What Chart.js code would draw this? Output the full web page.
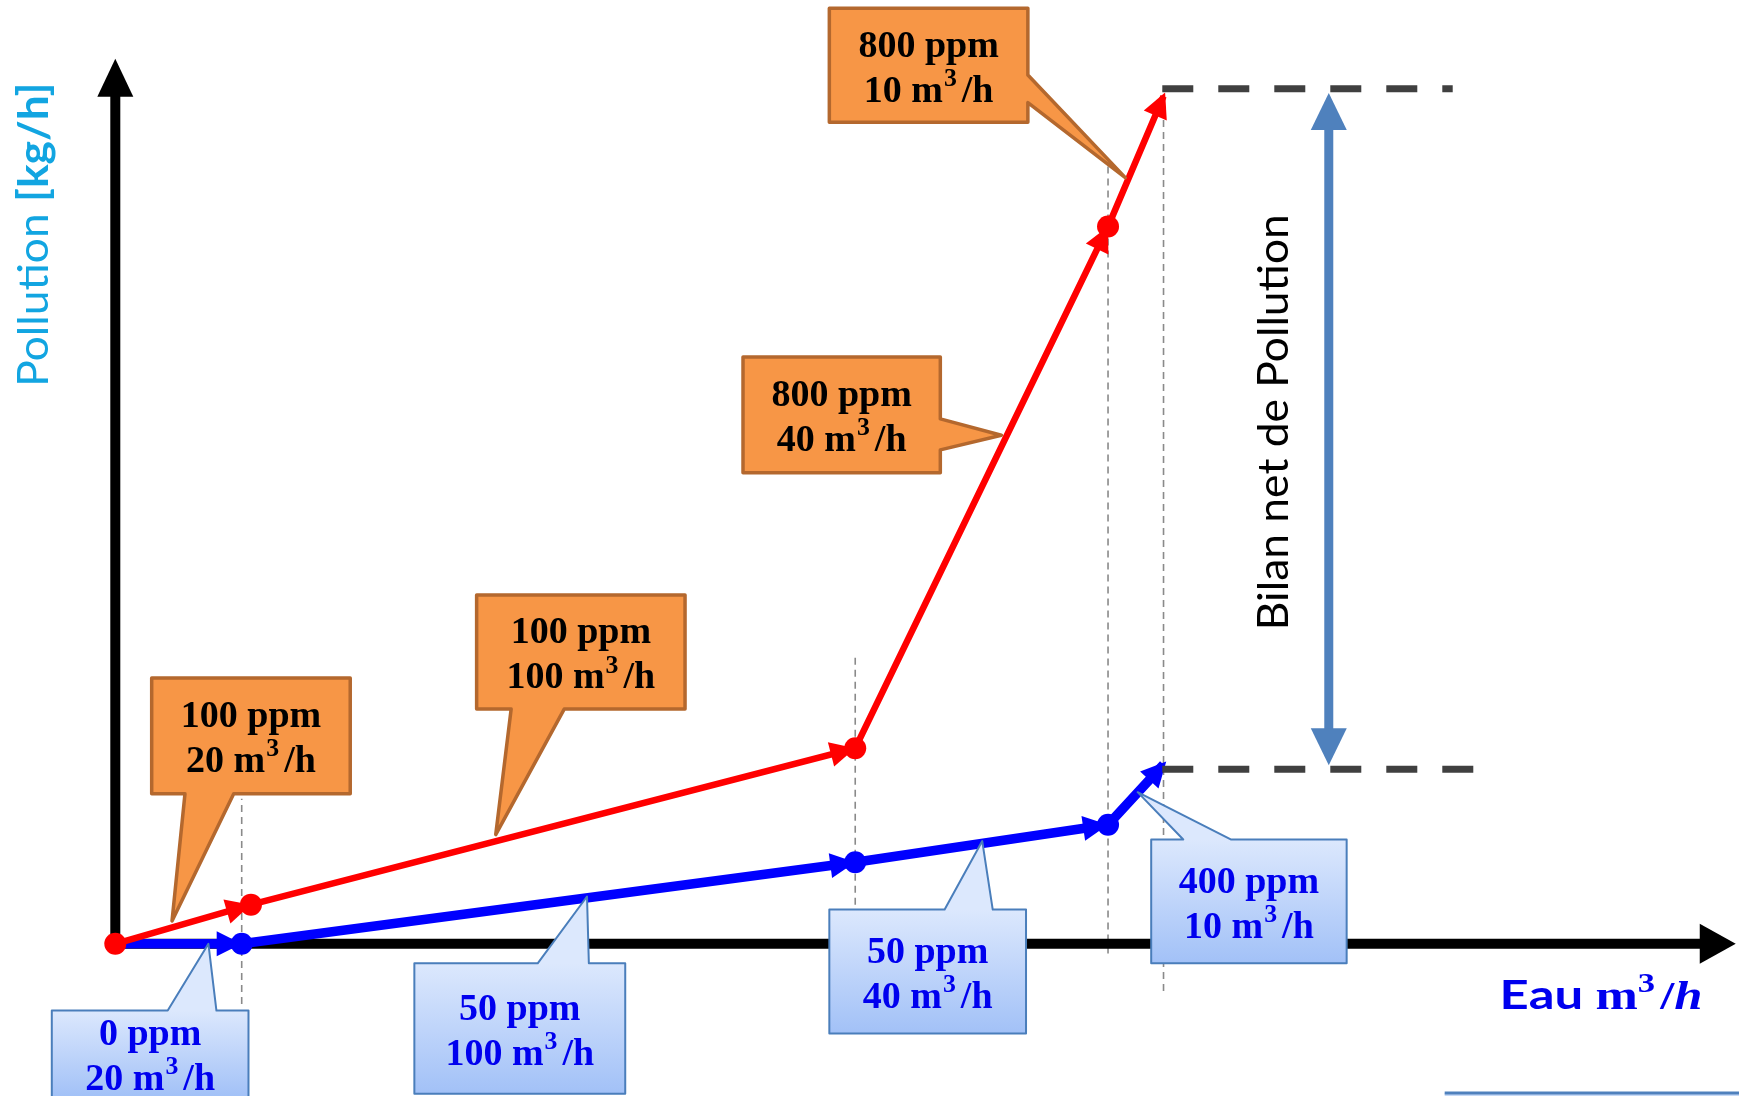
<!DOCTYPE html>
<html>
<head>
<meta charset="utf-8">
<script src="https://cdn.jsdelivr.net/npm/chart.js@4.4.1/dist/chart.umd.min.js"></script>
<style>
  html, body { margin: 0; padding: 0; background: #fff; }
  #wrap { width: 1739px; height: 1096px; }
</style>
</head>
<body>
<div id="wrap"><canvas id="bilan"></canvas></div>
<script>
// values: x = eau cumulée (m3/h), y = pollution (kg/h)
const redX = [0, 22, 120, 161, 170];
const redY = [0, 2.4, 12, 44, 52];
const blueX = [0, 20.5, 120, 161, 170];
const blueY = [0, 0, 5, 7.3, 11];

// callout texts (concentration, debit)
const orangeConc = ['100 ppm', '100 ppm', '800 ppm', '800 ppm'];
const orangeFlow = ['20', '100', '40', '10'];
const blueConc = ['0 ppm', '50 ppm', '50 ppm', '400 ppm'];
const blueFlow = ['20', '100', '40', '10'];

// layout of the drawing, in data units
const orangeBoxes = [
  { box: [5.9, 38.1, 9.2, 16.3], side: 'bottom', base: [11.3, 19.2], tip: [9.2, 1.4] },
  { box: [58.6, 92.4, 14.4, 21.4], side: 'bottom', base: [64.2, 72.8], tip: [61.7, 6.7] },
  { box: [101.8, 133.8, 28.9, 36.0], side: 'right', base: [30.3, 32.2], tip: [143.7, 31.2] },
  { box: [115.8, 148.0, 50.4, 57.4], side: 'right', base: [51.6, 53.3], tip: [163.8, 47.0] }
];
const blueBoxes = [
  { box: [-10.3, 21.6, -9.4, -4.1], side: 'top', base: [8.5, 16.4], tip: [15.1, 0] },
  { box: [48.5, 82.7, -9.2, -1.2], side: 'top', base: [68.5, 76.8], tip: [76.5, 2.9] },
  { box: [115.8, 147.7, -5.5, 2.1], side: 'top', base: [134.5, 142.3], tip: [140.6, 6.3] },
  { box: [168.0, 199.7, -1.2, 6.4], side: 'top', base: [173.2, 180.9], tip: [165.8, 9.3] }
];
const guides = [
  { x: 20.5, y0: -3.7, y1: 8.9 },
  { x: 120, y0: 2.4, y1: 17.8 },
  { x: 161, y0: -0.6, y1: 47.9 },
  { x: 170, y0: -2.9, y1: 52.4 }
];
const levels = [
  { y: 52.45, x0: 169.8, x1: 216.9 },
  { y: 10.7, x0: 169.8, x1: 221 }
];

const SERIF = '"Liberation Serif", "DejaVu Serif", serif';
const SANS = 'Lato, "Open Sans", sans-serif';

function arrowHead(ctx, x0, y0, x1, y1, len, w, color, ext) {
  const a = Math.atan2(y1 - y0, x1 - x0);
  ctx.save();
  ctx.translate(x1 + Math.cos(a) * (ext || 0), y1 + Math.sin(a) * (ext || 0));
  ctx.rotate(a);
  ctx.beginPath();
  ctx.moveTo(0, 0);
  ctx.lineTo(-len, -w / 2);
  ctx.lineTo(-len, w / 2);
  ctx.closePath();
  ctx.fillStyle = color;
  ctx.fill();
  ctx.restore();
}

function runFont(r, size) {
  const s = r.sup ? size * 0.68 : size;
  return (r.italic ? 'italic ' : '') + (r.bold === false ? '' : 'bold ') + s + 'px ' + (r.family || SERIF);
}

function drawRuns(ctx, runs, x, y, size, color, align, fitW) {
  let total = 0;
  const widths = runs.map(r => {
    ctx.font = runFont(r, size);
    const w = ctx.measureText(r.t).width + (r.gap || 0);
    total += w;
    return w;
  });
  const sx = fitW ? fitW / total : 1;
  ctx.save();
  ctx.translate(x, y);
  ctx.scale(sx, 1);
  ctx.textAlign = 'left';
  ctx.textBaseline = 'alphabetic';
  ctx.fillStyle = color;
  let cx = align === 'center' ? -total / 2 : 0;
  runs.forEach((r, i) => {
    ctx.font = runFont(r, size);
    ctx.fillText(r.t, cx + (r.gap || 0), r.sup ? -size * 0.42 : 0);
    cx += widths[i];
  });
  ctx.restore();
}

function flowRuns(q) {
  return [{ t: q + ' m' }, { t: '3', sup: true, gap: 1 }, { t: '/h', gap: 5 }];
}

function callout(ctx, X, Y, c, fill, stroke, lw) {
  const l = X(c.box[0]), r = X(c.box[1]), b = Y(c.box[2]), t = Y(c.box[3]);
  const tx = X(c.tip[0]), ty = Y(c.tip[1]);
  ctx.beginPath();
  if (c.side === 'top') {
    ctx.moveTo(l, t);
    ctx.lineTo(X(c.base[0]), t);
    ctx.lineTo(tx, ty);
    ctx.lineTo(X(c.base[1]), t);
    ctx.lineTo(r, t);
    ctx.lineTo(r, b);
    ctx.lineTo(l, b);
  } else if (c.side === 'bottom') {
    ctx.moveTo(l, t);
    ctx.lineTo(r, t);
    ctx.lineTo(r, b);
    ctx.lineTo(X(c.base[1]), b);
    ctx.lineTo(tx, ty);
    ctx.lineTo(X(c.base[0]), b);
    ctx.lineTo(l, b);
  } else {
    ctx.moveTo(l, t);
    ctx.lineTo(r, t);
    ctx.lineTo(r, Y(c.base[1]));
    ctx.lineTo(tx, ty);
    ctx.lineTo(r, Y(c.base[0]));
    ctx.lineTo(r, b);
    ctx.lineTo(l, b);
  }
  ctx.closePath();
  ctx.fillStyle = typeof fill === 'function' ? fill(t, b) : fill;
  ctx.fill();
  ctx.lineJoin = 'round';
  ctx.lineWidth = lw;
  ctx.strokeStyle = stroke;
  ctx.stroke();
  return { cx: (l + r) / 2, cy: (t + b) / 2 };
}

const diagram = {
  id: 'diagram',
  beforeDatasetsDraw(chart) {
    const ctx = chart.ctx;
    const X = v => chart.scales.x.getPixelForValue(v);
    const Y = v => chart.scales.y.getPixelForValue(v);

    // thin grey guides
    ctx.save();
    ctx.strokeStyle = '#8a8a8a';
    ctx.lineWidth = 1.6;
    ctx.setLineDash([7, 5]);
    guides.forEach(g => {
      ctx.beginPath();
      ctx.moveTo(X(g.x), Y(g.y0));
      ctx.lineTo(X(g.x), Y(g.y1));
      ctx.stroke();
    });
    ctx.restore();

    // axes
    ctx.save();
    ctx.strokeStyle = '#000';
    ctx.lineWidth = 10;
    ctx.beginPath();
    ctx.moveTo(X(0), Y(0));
    ctx.lineTo(X(0), Y(54.3) + 34);
    ctx.moveTo(X(0) - 5, Y(0));
    ctx.lineTo(X(262.8) - 34, Y(0));
    ctx.stroke();
    arrowHead(ctx, X(0), Y(0), X(0), Y(54.3), 38, 36, '#000');
    arrowHead(ctx, X(0), Y(0), X(262.8), Y(0), 36, 40, '#000');
    ctx.restore();

    // arrow heads along both curves
    chart.data.datasets.forEach((ds, i) => {
      const pts = chart.getDatasetMeta(i).data;
      for (let k = 1; k < pts.length; k++) {
        const last = k === pts.length - 1;
        arrowHead(ctx, pts[k - 1].x, pts[k - 1].y, pts[k].x, pts[k].y, 25, 25, ds.borderColor, last ? 4 : 0);
      }
    });
  },
  afterDatasetsDraw(chart) {
    const ctx = chart.ctx;
    const X = v => chart.scales.x.getPixelForValue(v);
    const Y = v => chart.scales.y.getPixelForValue(v);

    // dark dashed levels
    ctx.save();
    ctx.strokeStyle = '#404040';
    ctx.lineWidth = 7;
    ctx.setLineDash([31, 25]);
    levels.forEach(l => {
      ctx.beginPath();
      ctx.moveTo(X(l.x0), Y(l.y));
      ctx.lineTo(X(l.x1), Y(l.y));
      ctx.stroke();
    });
    ctx.restore();

    // double arrow "bilan net"
    ctx.save();
    const ax = X(196.8), aTop = Y(52.2), aBot = Y(10.95);
    ctx.strokeStyle = '#4F81BD';
    ctx.lineWidth = 9;
    ctx.beginPath();
    ctx.moveTo(ax, aTop + 34);
    ctx.lineTo(ax, aBot - 34);
    ctx.stroke();
    arrowHead(ctx, ax, aBot, ax, aTop, 37, 36, '#4F81BD');
    arrowHead(ctx, ax, aTop, ax, aBot, 37, 36, '#4F81BD');
    ctx.restore();

    // rotated texts
    ctx.save();
    ctx.translate(X(187.8), Y(32));
    ctx.rotate(-Math.PI / 2);
    drawRuns(ctx, [{ t: 'Bilan net de Pollution', bold: false, family: SANS }], 0, 15, 42, '#000', 'center', 416);
    ctx.restore();

    ctx.save();
    ctx.translate(X(-13.3), Y(43.5));
    ctx.rotate(-Math.PI / 2);
    drawRuns(ctx, [
      { t: 'Pollution ', bold: false, family: SANS },
      { t: '[kg/h]', family: SANS }
    ], 0, 15, 42, '#12A5E1', 'center', 304);
    ctx.restore();

    // x axis title
    drawRuns(ctx, [
      { t: 'Eau ', family: SANS },
      { t: 'm' },
      { t: '3', sup: true },
      { t: '/', gap: 4 },
      { t: 'h', italic: true }
    ], X(224.5), Y(-4.0), 40, '#0000ee', 'left', 203);

    // cut shape at the bottom right
    ctx.save();
    ctx.fillStyle = '#C6D9F6';
    ctx.strokeStyle = '#4F81BD';
    ctx.lineWidth = 3;
    ctx.fillRect(X(215.6), Y(-9.15), X(270) - X(215.6), 20);
    ctx.beginPath();
    ctx.moveTo(X(215.6), Y(-9.15));
    ctx.lineTo(X(270), Y(-9.15));
    ctx.stroke();
    ctx.restore();

    // callouts
    orangeBoxes.forEach((c, i) => {
      ctx.save();
      const m = callout(ctx, X, Y, c, '#F79646', '#B4682E', 3.5);
      drawRuns(ctx, [{ t: orangeConc[i] }], m.cx, m.cy - 8.5, 38, '#000', 'center');
      drawRuns(ctx, flowRuns(orangeFlow[i]), m.cx, m.cy + 36.5, 38, '#000', 'center');
      ctx.restore();
    });
    blueBoxes.forEach((c, i) => {
      ctx.save();
      const grad = (t, b) => {
        const g = ctx.createLinearGradient(0, t, 0, b);
        g.addColorStop(0, '#DCE8FD');
        g.addColorStop(1, '#A2C1F7');
        return g;
      };
      const m = callout(ctx, X, Y, c, grad, '#4A7EBB', 2);
      drawRuns(ctx, [{ t: blueConc[i] }], m.cx, m.cy - 8.5, 38, '#0000ee', 'center');
      drawRuns(ctx, flowRuns(blueFlow[i]), m.cx, m.cy + 36.5, 38, '#0000ee', 'center');
      ctx.restore();
    });
  }
};

const redPoints = redX.map((x, i) => ({ x: x, y: redY[i] }));
const bluePoints = blueX.map((x, i) => ({ x: x, y: blueY[i] }));

const chart = new Chart(document.getElementById('bilan'), {
  type: 'scatter',
  data: {
    datasets: [{
      label: 'Rejet',
      data: redPoints,
      showLine: true,
      borderColor: '#ff0000',
      backgroundColor: '#ff0000',
      borderWidth: 6.5,
      pointRadius: [11, 11, 11, 11, 0],
      pointBorderWidth: 0,
      clip: false,
      order: 0
    }, {
      label: 'Bilan',
      data: bluePoints,
      showLine: true,
      borderColor: '#0000ff',
      backgroundColor: '#0000ff',
      borderWidth: 9.5,
      pointRadius: [0, 11, 11, 11, 0],
      pointBorderWidth: 0,
      clip: false,
      order: 1
    }]
  },
  options: {
    responsive: true,
    maintainAspectRatio: false,
    animation: false,
    layout: { padding: 0, autoPadding: false },
    plugins: {
      legend: { display: false },
      tooltip: { enabled: false }
    },
    scales: {
      x: { type: 'linear', min: -18.7, max: 263.33, display: false },
      y: { type: 'linear', min: -9.34, max: 57.9, display: false }
    }
  },
  plugins: [diagram]
});
</script>
</body>
</html>
